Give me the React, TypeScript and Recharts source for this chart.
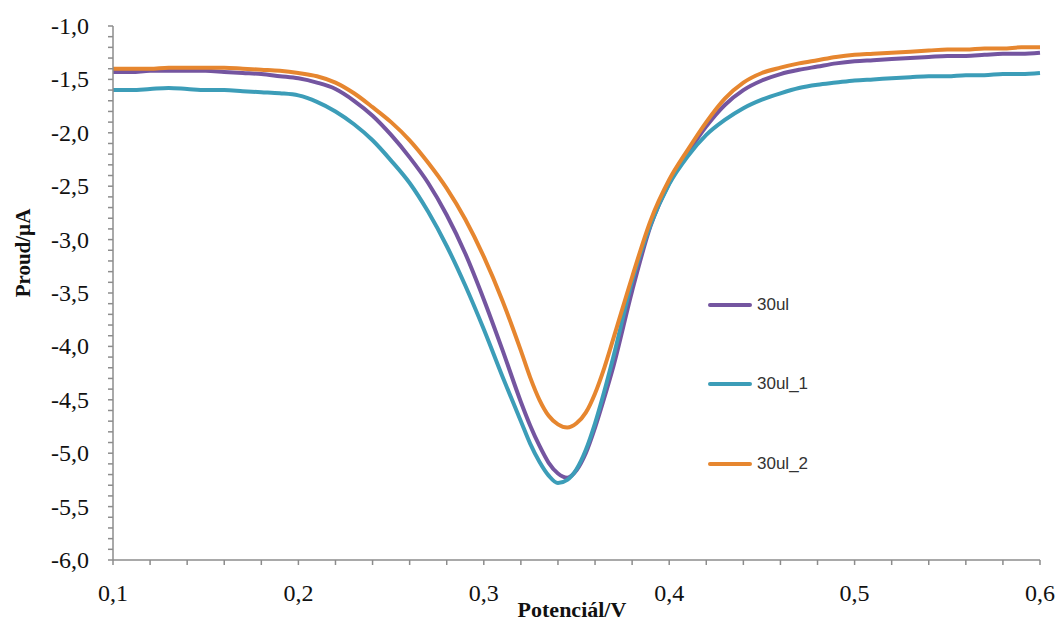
import { LineChart, Line, XAxis, YAxis } from "recharts";

// ─── Data ─────────────────────────────────────────────────────────────────────

const potential = [
    0.10, 0.11, 0.12, 0.13, 0.14, 0.15, 0.16, 0.17, 0.18, 0.19,
    0.20, 0.21, 0.22, 0.23, 0.24, 0.25, 0.26, 0.27, 0.28, 0.29,
    0.30, 0.31, 0.32,
    0.325, 0.33, 0.335, 0.34, 0.345, 0.35, 0.355, 0.36, 0.365, 0.37,
    0.38, 0.39, 0.40, 0.41, 0.42, 0.43, 0.44, 0.45, 0.46, 0.47, 0.48, 0.49,
    0.50, 0.51, 0.52, 0.53, 0.54, 0.55, 0.56, 0.57, 0.58, 0.59, 0.60,
];

const ul30 = [
    -1.43, -1.43, -1.42, -1.42, -1.42, -1.42, -1.43, -1.44, -1.45, -1.47,
    -1.49, -1.53, -1.59, -1.70, -1.84, -2.02, -2.23, -2.47, -2.77, -3.13,
    -3.56, -4.03, -4.52,
    -4.74, -4.93, -5.09, -5.19, -5.23, -5.16, -5.00, -4.76, -4.48, -4.18,
    -3.48, -2.87, -2.47, -2.19, -1.94, -1.74, -1.60, -1.51, -1.45, -1.41, -1.38, -1.35,
    -1.33, -1.32, -1.31, -1.30, -1.29, -1.28, -1.28, -1.27, -1.26, -1.26, -1.25,
];

const ul30_1 = [
    -1.60, -1.60, -1.59, -1.58, -1.59, -1.60, -1.60, -1.61, -1.62, -1.63,
    -1.65, -1.71, -1.80, -1.92, -2.07, -2.26, -2.47, -2.74, -3.06, -3.43,
    -3.84, -4.28, -4.70,
    -4.91, -5.08, -5.21, -5.28, -5.25, -5.15, -4.97, -4.72, -4.42, -4.09,
    -3.39, -2.86, -2.48, -2.22, -2.02, -1.88, -1.77, -1.69, -1.63, -1.58, -1.55, -1.53,
    -1.51, -1.50, -1.49, -1.48, -1.47, -1.47, -1.46, -1.46, -1.45, -1.45, -1.44,
];

const ul30_2 = [
    -1.40, -1.40, -1.40, -1.39, -1.39, -1.39, -1.39, -1.40, -1.41, -1.42,
    -1.44, -1.47, -1.53, -1.63, -1.76, -1.90, -2.07, -2.28, -2.52, -2.81,
    -3.16, -3.57, -4.04,
    -4.29, -4.50, -4.65, -4.73, -4.76, -4.72, -4.62, -4.44, -4.20, -3.92,
    -3.35, -2.82, -2.44, -2.16, -1.90, -1.68, -1.53, -1.44, -1.39, -1.35, -1.32, -1.29,
    -1.27, -1.26, -1.25, -1.24, -1.23, -1.22, -1.22, -1.21, -1.21, -1.20, -1.20,
];

const seriesList = [
    { key: "ul30", name: "30ul", color: "#7455A0", values: ul30 },
    { key: "ul30_1", name: "30ul_1", color: "#3C9DB8", values: ul30_1 },
    { key: "ul30_2", name: "30ul_2", color: "#E6862F", values: ul30_2 },
];

const xTicks = Array.from({ length: 26 }, (_, i) => Math.round((0.1 + i * 0.02) * 100) / 100);
const yTicks = Array.from({ length: 51 }, (_, i) => Math.round((-6 + i * 0.1) * 10) / 10);

const data = potential.map((x, i) => {
    const row: Record<string, number> = { x };
    seriesList.forEach((s) => { row[s.key] = s.values[i]; });
    return row;
});

// ─── Helpers ──────────────────────────────────────────────────────────────────

const AXIS = "#8C8C8C";
const SERIF = "'Liberation Serif', 'Times New Roman', serif";

const isMajorX = (v: number) => Math.abs(v * 10 - Math.round(v * 10)) < 1e-6;
const isMajorY = (v: number) => Math.abs(v * 2 - Math.round(v * 2)) < 1e-6;
const fmt = (v: number) => v.toFixed(1).replace(".", ",");

function XTick({ x, y, payload }: any) {
    if (!isMajorX(payload.value)) return null;
    return (
        <text x={x} y={y + 34} textAnchor="middle" fontFamily={SERIF} fontSize={24} fill="#111">
            {fmt(payload.value)}
        </text>
    );
}

function YTick({ x, y, payload }: any) {
    if (!isMajorY(payload.value)) return null;
    return (
        <text x={x - 17} y={y + 8} textAnchor="end" fontFamily={SERIF} fontSize={24} fill="#111">
            {fmt(payload.value)}
        </text>
    );
}

function LegendBox() {
    return (
        <div style={{ position: "absolute", left: 708, top: 265, display: "flex", flexDirection: "column" }}>
            {seriesList.map((s) => (
                <div key={s.key} style={{ display: "flex", alignItems: "center", height: 79.5 }}>
                    <span style={{ width: 44, height: 4, borderRadius: 2, background: s.color, display: "inline-block" }} />
                    <span style={{ marginLeft: 5, fontFamily: "'Liberation Sans', Arial, sans-serif", fontSize: 17, color: "#333" }}>
                        {s.name}
                    </span>
                </div>
            ))}
        </div>
    );
}

// ─── Chart ────────────────────────────────────────────────────────────────────

export default function App() {
    return (
        <div style={{ position: "absolute", left: 0, top: 0, width: 1059, height: 621, background: "#fff" }}>
            <LineChart width={1059} height={621} data={data} margin={{ top: 26, right: 19, left: 0, bottom: 0 }}>
                <XAxis
                    dataKey="x"
                    type="number"
                    domain={[0.1, 0.6]}
                    ticks={xTicks}
                    interval={0}
                    height={61}
                    stroke={AXIS}
                    strokeWidth={1.5}
                    tickSize={5}
                    tick={<XTick />}
                    label={{
                        content: () => (
                            <text x={572} y={617} textAnchor="middle" fontFamily={SERIF} fontWeight={700} fontSize={22} fill="#111">
                                Potenciál/V
                            </text>
                        ),
                    }}
                />
                <YAxis
                    type="number"
                    domain={[-6, -1]}
                    ticks={yTicks}
                    interval={0}
                    width={113}
                    stroke={AXIS}
                    strokeWidth={1.5}
                    tickSize={5}
                    tick={<YTick />}
                    label={{
                        content: () => (
                            <text x={30} y={253} transform="rotate(-90 30 253)" textAnchor="middle" fontFamily={SERIF} fontWeight={700} fontSize={21} fill="#111">
                                Proud/µA
                            </text>
                        ),
                    }}
                />
                {seriesList.map((s) => (
                    <Line
                        key={s.key}
                        dataKey={s.key}
                        name={s.name}
                        type="monotone"
                        stroke={s.color}
                        strokeWidth={4}
                        dot={false}
                        isAnimationActive={false}
                    />
                ))}
            </LineChart>
            <LegendBox />
        </div>
    );
}
